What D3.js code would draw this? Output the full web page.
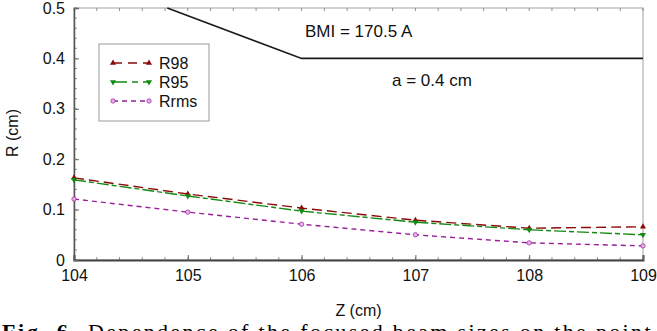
<!DOCTYPE html>
<html>
<head>
<meta charset="utf-8">
<script src="https://cdn.jsdelivr.net/npm/d3@7"></script>
<style>
  body { margin: 0; background: #fff; }
  svg { display: block; font-family: "Liberation Sans", Arial, sans-serif; }
</style>
</head>
<body>
<svg id="chart" width="657" height="331"></svg>
<script>
// focus position Z (cm)
const zValues = [104, 105, 106, 107, 108, 109];
// beam radii (cm)
const r98 = [0.163, 0.131, 0.103, 0.079, 0.063, 0.066];
const r95 = [0.159, 0.127, 0.097, 0.075, 0.060, 0.050];
const rrms = [0.121, 0.095, 0.071, 0.050, 0.034, 0.028];
// aperture limit line
const limitZ = [104.82, 106, 109];
const limitR = [0.5, 0.4, 0.4];

const xTicks = [104, 105, 106, 107, 108, 109];
const yTicks = [0, 0.1, 0.2, 0.3, 0.4, 0.5];
const yTickLabels = ['0', '0.1', '0.2', '0.3', '0.4', '0.5'];

const series = [
  {name: 'R98', values: r98, color: '#8b0a0a', dash: '10,5', marker: 'up', mfill: '#8b0a0a'},
  {name: 'R95', values: r95, color: '#118a11', dash: '12,3,5,3', marker: 'down', mfill: '#118a11'},
  {name: 'Rrms', values: rrms, color: '#9a1d9a', dash: '5,4', marker: 'circle', mfill: '#e7b3e7'}
];

const width = 657, height = 331;
const margin = {top: 8, right: 14, bottom: 71, left: 74};
const w = width - margin.left - margin.right;
const h = height - margin.top - margin.bottom;

const svg = d3.select('#chart');
const g = svg.append('g').attr('transform', `translate(${margin.left},${margin.top})`);

const x = d3.scaleLinear().domain([104, 109]).range([0, w]);
const y = d3.scaleLinear().domain([0, 0.5]).range([h, 0]);

// frame (top / right light)
g.append('rect')
 .attr('width', w).attr('height', h)
 .attr('fill', 'none').attr('stroke', '#a0a0a0').attr('stroke-width', 1);

// minor ticks, inward
const xMinor = d3.range(104, 109.001, 0.2);
const yMinor = d3.range(0, 0.5001, 0.02);
const minor = g.append('g').attr('stroke', '#777').attr('stroke-width', 0.8);
minor.selectAll('.xb').data(xMinor).join('line')
     .attr('x1', d => x(d)).attr('x2', d => x(d))
     .attr('y1', h).attr('y2', h - 3);
minor.selectAll('.xt').data(xMinor).join('line')
     .attr('x1', d => x(d)).attr('x2', d => x(d))
     .attr('y1', 0).attr('y2', 3);
minor.selectAll('.yl').data(yMinor).join('line')
     .attr('x1', 0).attr('x2', 3)
     .attr('y1', d => y(d)).attr('y2', d => y(d));

// axes
const xAxis = d3.axisBottom(x).tickValues(xTicks).tickSize(-5).tickPadding(10)
                .tickFormat(d3.format('d'));
const xg = g.append('g').attr('transform', `translate(0,${h})`).call(xAxis);
xg.select('.domain').attr('stroke', '#444').attr('stroke-width', 2);

const yAxis = d3.axisLeft(y).tickValues(yTicks).tickSize(-5).tickPadding(9)
                .tickFormat((d, i) => yTickLabels[i]);
const yg = g.append('g').call(yAxis);
yg.select('.domain').attr('stroke', '#555').attr('stroke-width', 1.5);

[xg, yg].forEach(a => {
  a.selectAll('.tick line').attr('stroke', '#666');
  a.selectAll('.tick text').attr('font-size', 16).attr('fill', '#111')
   .attr('font-family', '"Liberation Sans", Arial, sans-serif');
});

// limit line
const limitData = limitZ.map((z, i) => ({z, r: limitR[i]}));
g.append('path')
 .datum(limitData)
 .attr('fill', 'none').attr('stroke', '#1a1a1a').attr('stroke-width', 1.6)
 .attr('d', d3.line().x(d => x(d.z)).y(d => y(d.r)));

g.append('text').attr('x', 231).attr('y', 29).attr('font-size', 17).attr('fill', '#111')
 .text('BMI = 170.5 A');
g.append('text').attr('x', 318).attr('y', 78).attr('font-size', 17).attr('fill', '#111')
 .text('a = 0.4 cm');

// markers
function drawMarker(sel, s, px, py) {
  if (s.marker === 'circle') {
    sel.append('circle').attr('cx', px).attr('cy', py).attr('r', 2.2)
       .attr('fill', s.mfill).attr('stroke', s.color).attr('stroke-width', 0.7);
  } else {
    sel.append('path')
       .attr('d', d3.symbol(d3.symbolTriangle, 16)())
       .attr('transform', `translate(${px},${py}) rotate(${s.marker === 'down' ? 180 : 0})`)
       .attr('fill', s.mfill);
  }
}

const line = d3.line().x(d => x(d.z)).y(d => y(d.r));
series.forEach(s => {
  const pts = zValues.map((z, i) => ({z, r: s.values[i]}));
  g.append('path').datum(pts)
   .attr('fill', 'none').attr('stroke', s.color).attr('stroke-width', 1.4)
   .attr('stroke-dasharray', s.dash).attr('d', line);
  pts.forEach(p => drawMarker(g, s, x(p.z), y(p.r)));
});

// legend
const lg = svg.append('g').attr('transform', 'translate(99,44)');
lg.append('rect').attr('width', 110).attr('height', 77)
  .attr('fill', '#fff').attr('stroke', '#999').attr('stroke-width', 1);
series.forEach((s, i) => {
  const ly = 19 + i * 19;
  lg.append('line').attr('x1', 14).attr('x2', 50).attr('y1', ly).attr('y2', ly)
    .attr('stroke', s.color).attr('stroke-width', 1.4)
    .attr('stroke-dasharray', s.name === 'R95' ? '14,5,6,5' : (s.name === 'R98' ? '9,6' : '5,4'));
  drawMarker(lg, s, 14, ly);
  drawMarker(lg, s, 50, ly);
  lg.append('text').attr('x', 60).attr('y', ly).attr('dy', '0.36em')
    .attr('font-size', 16).attr('fill', '#111').text(s.name);
});

// axis titles
svg.append('text')
   .attr('transform', 'translate(18,133) rotate(-90)')
   .attr('text-anchor', 'middle').attr('font-size', 16).attr('fill', '#111')
   .text('R (cm)');
svg.append('text')
   .attr('x', margin.left + w / 2).attr('y', 316)
   .attr('text-anchor', 'middle').attr('font-size', 16).attr('fill', '#111')
   .text('Z (cm)');

// caption (cut off at the bottom edge)
svg.append('text').attr('x', 2).attr('y', 339)
   .attr('font-family', '"Liberation Serif", "Times New Roman", serif')
   .attr('font-size', 22).attr('font-weight', 'bold').attr('fill', '#000')
   .attr('textLength', 74).attr('lengthAdjust', 'spacing')
   .text('Fig. 6.');
svg.append('text').attr('x', 88).attr('y', 339)
   .attr('font-family', '"Liberation Serif", "Times New Roman", serif')
   .attr('font-size', 22).attr('fill', '#000')
   .attr('textLength', 580).attr('lengthAdjust', 'spacing')
   .text('Dependence of the focused beam sizes on the point f');
</script>
</body>
</html>
